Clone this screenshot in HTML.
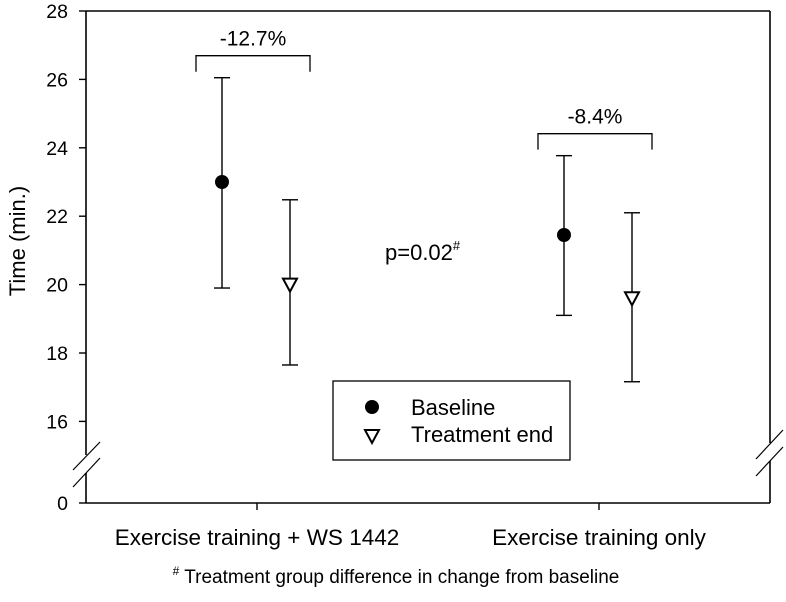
<!DOCTYPE html>
<html><head><meta charset="utf-8"><style>
body{margin:0;background:#fff;}
svg text{font-family:"Liberation Sans",Arial,sans-serif;fill:#000;}
</style></head><body>
<svg width="786" height="597" viewBox="0 0 786 597">
<g id="frame" stroke="#000" stroke-width="1.6" fill="none">
  <line x1="86" y1="11" x2="770" y2="11"/>
  <line x1="86" y1="11" x2="86" y2="455"/>
  <line x1="86" y1="473" x2="86" y2="503"/>
  <line x1="770" y1="11" x2="770" y2="443"/>
  <line x1="770" y1="461" x2="770" y2="503"/>
  <line x1="86" y1="503" x2="770" y2="503"/>
  <line x1="73" y1="470" x2="100" y2="442" stroke-width="1.2"/>
  <line x1="73" y1="487" x2="100" y2="458" stroke-width="1.2"/>
  <line x1="756" y1="459" x2="783" y2="430" stroke-width="1.2"/>
  <line x1="756" y1="476" x2="783" y2="447" stroke-width="1.2"/>
</g>
<g id="yticks"></g>
<g id="xticks"></g>
<text x="25" y="241" font-size="22" text-anchor="middle" transform="rotate(-90 25 241)">Time (min.)</text>
<g id="brackets" stroke="#000" stroke-width="1.3" fill="none"></g>
<g id="marks"></g>
<text x="385" y="260" font-size="22">p=0.02<tspan font-size="13" dy="-10">#</tspan></text>
<g>
  <rect x="333" y="381" width="237" height="79" fill="#fff" stroke="#000" stroke-width="1.3"/>
  <circle cx="372" cy="407" r="7" fill="#000"/>
  <text x="411" y="415" font-size="22">Baseline</text>
  <polygon points="365,430 379,430 372,443" fill="#fff" stroke="#000" stroke-width="2"/>
  <text x="411" y="442" font-size="22">Treatment end</text>
</g>
<text x="396" y="583" font-size="19" text-anchor="middle"><tspan font-size="12" dy="-8">#</tspan><tspan dy="8"> Treatment group difference in change from baseline</tspan></text>
</svg>
<script>
const yTicks=[16,18,20,22,24,26,28];
const categories=["Exercise training + WS 1442","Exercise training only"];
const baselineMean=[23.0,21.45];
const baselineLow=[19.9,19.1];
const baselineHigh=[26.05,23.77];
const endMean=[20.0,19.6];
const endLow=[17.65,17.16];
const endHigh=[22.48,22.1];
const pctLabels=["-12.7%","-8.4%"];

const NS="http://www.w3.org/2000/svg";
function y(v){return 11+(28-v)*34.2;}
function xc(i){return 257+i*342;}
function mk(tag,attrs,parent){const e=document.createElementNS(NS,tag);for(const k in attrs)e.setAttribute(k,attrs[k]);parent.appendChild(e);return e;}
const yt=document.getElementById('yticks');
yTicks.forEach(v=>{
  const l=mk('line',{x1:79,x2:86,y1:y(v),y2:y(v),stroke:'#000','stroke-width':1.4},yt);
  
  
  const t=mk('text',{x:68,y:y(v)+7,'font-size':19.5,'text-anchor':'end'},yt);
  t.textContent=v;
  
  
});
const z=mk('line',{x1:79,x2:86,y1:503,y2:503,stroke:'#000','stroke-width':1.4},yt);


const zt=mk('text',{x:68,y:510,'font-size':19.5,'text-anchor':'end'},yt);
zt.textContent='0';


const xt=document.getElementById('xticks');
const br=document.getElementById('brackets');
const mg=document.getElementById('marks');
categories.forEach((c,i)=>{
  const x=xc(i);
  const l=mk('line',{x1:x,x2:x,y1:503,y2:510,stroke:'#000','stroke-width':1.4},xt);
  
  
  const t=mk('text',{x:x,y:545,'font-size':22.5,'text-anchor':'middle'},xt);
  t.textContent=c;
  
  
  const xb=x-35, xe=x+33;
  [[xb,baselineLow[i],baselineHigh[i],'baseline'],[xe,endLow[i],endHigh[i],'treatment-end']].forEach(([px,lo,hi,nm])=>{
    const g=mk('g',{stroke:'#000','stroke-width':1.4},mg);
    
    
    mk('line',{x1:px,x2:px,y1:y(hi),y2:y(lo)},g);
    mk('line',{x1:px-8,x2:px+8,y1:y(hi),y2:y(hi)},g);
    mk('line',{x1:px-8,x2:px+8,y1:y(lo),y2:y(lo)},g);
  });
  const cir=mk('circle',{cx:xb,cy:y(baselineMean[i]),r:7,fill:'#000'},mg);
  
  
  const ym=y(endMean[i]);
  const tri=mk('polygon',{points:`${xe-7},${ym-6} ${xe+7},${ym-6} ${xe},${ym+7}`,fill:'#fff',stroke:'#000','stroke-width':2},mg);
  
  
  const top=Math.min(y(baselineHigh[i]),y(endHigh[i]))-22;
  const p=mk('path',{d:`M${xb-26},${top+16} V${top} H${xe+20} V${top+16}`},br);
  
  
  const pt=mk('text',{x:(xb+xe)/2-3,y:top-10,'font-size':21,'text-anchor':'middle'},mg);
  pt.textContent=pctLabels[i];
  
  
});
</script>
</body></html>
